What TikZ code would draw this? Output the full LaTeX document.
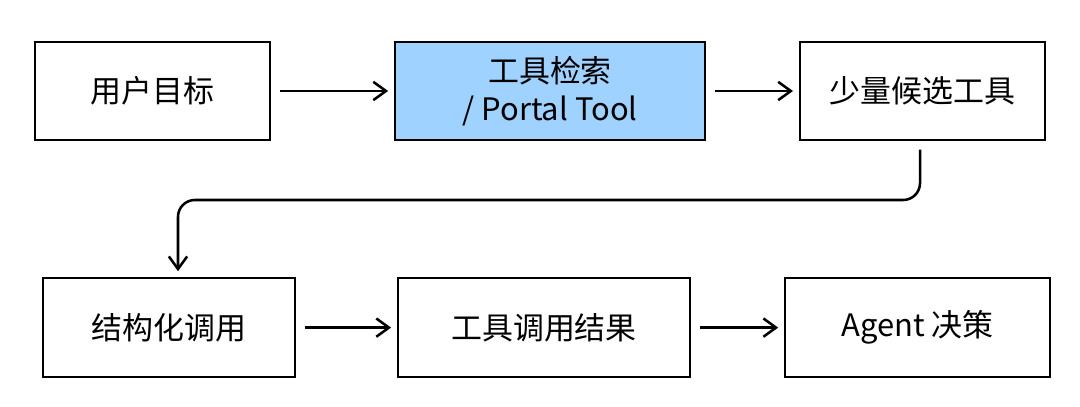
\documentclass[tikz,border=0pt]{standalone}
\usepackage{fontspec}
\setmainfont{Noto Sans CJK SC}
\usetikzlibrary{positioning, calc, arrows.meta}
\definecolor{toolblue}{HTML}{A0D2FF}

\begin{document}
\begin{tikzpicture}[box/.style={draw, line width=1.8pt, rectangle, font=\fontsize{22}{27}\selectfont, align=center},
        flow/.style={line width=1.8pt, -{Straight Barb[length=9pt, width=13pt]}, shorten <=6pt, shorten >=4pt}]
        \useasboundingbox (0,0) rectangle (27,10.15);
        \node[box, minimum width=5.875cm, minimum height=2.45cm] (goal) at (3.81,7.875) {用户目标};
        \node[box, fill=toolblue, minimum width=7.75cm, minimum height=2.45cm] (search) at (13.75,7.875) {工具检索\\/ Portal Tool};
        \node[box, minimum width=6.125cm, minimum height=2.45cm] (cand) at (23.06,7.875) {少量候选工具};
        \node[box, minimum width=6.3cm, minimum height=2.475cm] (call) at (4.225,1.96) {结构化调用};
        \node[box, minimum width=7.3cm, minimum height=2.475cm] (result) at (13.6,1.96) {工具调用结果};
        \node[box, minimum width=6.625cm, minimum height=2.475cm] (agent) at (22.94,1.96) {Agent 决策};

        \foreach \i/\j in {goal/search, search/cand, call/result, result/agent} {
                \draw[flow] (\i) -- (\j);
        }
        \draw[flow, rounded corners=12pt] (cand.south -| 23.0,0) -- (23.0,5.15) -- (4.45,5.15) -- (call.north -| 4.45,0);
\end{tikzpicture}
\end{document}
